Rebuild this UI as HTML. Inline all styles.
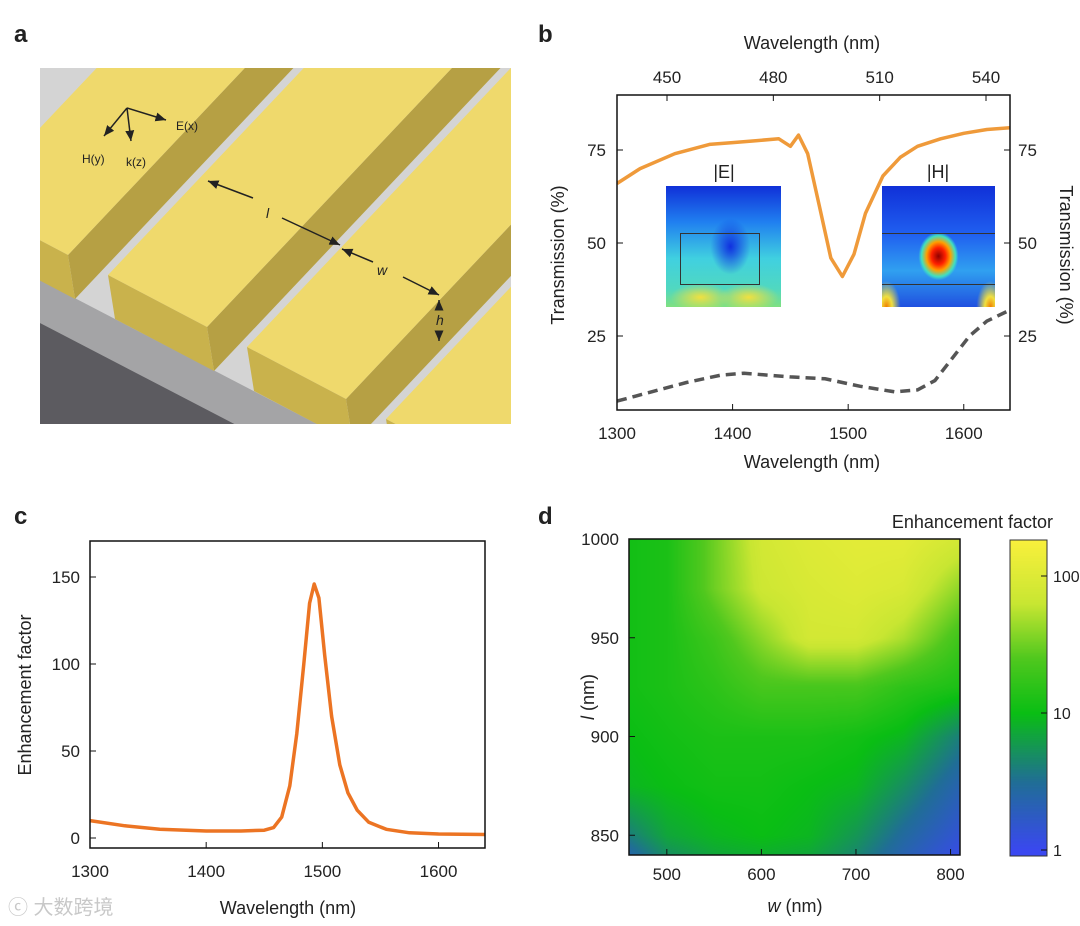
<!DOCTYPE html>
<html><head><meta charset="utf-8">
<style>
body{margin:0;background:#fff;width:1080px;height:926px;position:relative;overflow:hidden;font-family:"Liberation Sans","Noto Sans CJK SC",sans-serif;}
svg{position:absolute;left:0;top:0}
text{font-family:"Liberation Sans","Noto Sans CJK SC",sans-serif;fill:#222}
.inset{position:absolute}
</style></head><body>
<svg id="main" width="1080" height="926">
  <defs><clipPath id="clipA"><rect x="40" y="68" width="471" height="356"/></clipPath>
  <clipPath id="clipB"><rect x="617" y="95" width="393" height="315"/></clipPath></defs>
  <text x="14" y="42" font-size="24" font-weight="bold">a</text>
  <text x="538" y="42" font-size="24" font-weight="bold">b</text>
  <text x="14" y="524" font-size="24" font-weight="bold">c</text>
  <text x="538" y="524" font-size="24" font-weight="bold">d</text>
  <g id="panelA" clip-path="url(#clipA)">
    <rect x="40" y="68" width="471" height="356" fill="#d4d4d4"/>
    <polygon points="40,280 700,623 700,700 40,323" fill="#a4a4a6"/>
    <polygon points="40,323 700,666 40,666" fill="#5c5b60"/>
  </g>
  <g id="panelB"></g>
  <g id="panelC"></g>
  <g id="panelD"></g>
  <text x="8" y="914" font-size="20" fill="#bbb" style="fill:#c8c8c8">ⓒ 大数跨境</text>
</svg>

<div class="inset" style="left:666px;top:186px;width:115px;height:121px;background:
radial-gradient(ellipse 20px 28px at 56% 50%, #1030e0, rgba(16,48,224,0) 100%),
radial-gradient(ellipse 30px 14px at 30% 92%, #f0e040, rgba(240,224,64,0) 100%),
radial-gradient(ellipse 30px 14px at 72% 92%, #f0e040, rgba(240,224,64,0) 100%),
linear-gradient(#1030d8 0%, #2080f0 30%, #40d0e0 60%, #50d8c0 85%, #80e080 100%);"></div>
<div class="inset" style="left:680px;top:233px;width:78px;height:50px;border:1px solid #333;"></div>
<div class="inset" style="left:882px;top:186px;width:113px;height:121px;background:
radial-gradient(ellipse 20px 24px at 50% 58%, #900000, #ff2000 35%, #ffa000 60%, #40e0c0 85%, rgba(40,160,240,0) 100%),
radial-gradient(ellipse 14px 26px at 4% 100%, #f08000, #f0e040 40%, rgba(64,200,220,0) 100%),
radial-gradient(ellipse 14px 26px at 96% 100%, #f08000, #f0e040 40%, rgba(64,200,220,0) 100%),
linear-gradient(#1030d8 0%, #2060f0 40%, #30a0f0 70%, #2050e0 100%);"></div>
<div class="inset" style="left:882px;top:233px;width:113px;height:50px;border-top:1px solid #333;border-bottom:1px solid #333;"></div>
<canvas id="heat" width="331" height="316" style="position:absolute;left:629px;top:539px"></canvas>
<canvas id="cbar" width="37" height="316" style="position:absolute;left:1010px;top:540px"></canvas>
<svg id="over" width="1080" height="926"></svg>

<script>
const NS="http://www.w3.org/2000/svg";
function mk(parent,tag,attrs,txt){const e=document.createElementNS(NS,tag);for(const k in attrs)e.setAttribute(k,attrs[k]);if(txt!==undefined)e.textContent=txt;parent.appendChild(e);return e;}

// ---------- Panel A schematic ----------
const gA=document.getElementById('panelA');
const stripeStarts=[[-31,203],[108,275],[247,347],[386,419]];
stripeStarts.forEach((p,i)=>{
  const W=[99,52],D=[729,-771],H=[7,44];
  const P=p, PW=[P[0]+W[0],P[1]+W[1]];
  const pt=a=>a.map(v=>v[0]+','+v[1]).join(' ');
  const s=mk(gA,'polygon',{points:pt([PW,[PW[0]+D[0],PW[1]+D[1]],[PW[0]+D[0]+H[0],PW[1]+D[1]+H[1]],[PW[0]+H[0],PW[1]+H[1]]]),fill:'#b6a044'});
  
  
  const t=mk(gA,'polygon',{points:pt([P,PW,[PW[0]+D[0],PW[1]+D[1]],[P[0]+D[0],P[1]+D[1]]]),fill:'#efd96c'});
  
  
  const f=mk(gA,'polygon',{points:pt([P,PW,[PW[0]+H[0],PW[1]+H[1]],[P[0]+H[0],P[1]+H[1]]]),fill:'#c9b24c'});
  
  
});
// axes arrows
const ov=document.getElementById('over');
mk(ov,'defs',{}).innerHTML='<marker id="ah" markerWidth="8" markerHeight="8" refX="7" refY="4" orient="auto"><path d="M0,1 L7,4 L0,7 z" fill="#222"/></marker>';
[[127,108,166,121],[127,108,103,136],[127,108,131,141],[250,176,208,181],[287,196,337,241],[353,255,340,245],[404,280,440,296],[439,300,439,300]].forEach((a,i)=>{});
const arrows=[[127,108,166,120,'e-arrow'],[127,108,104,136,'h-arrow'],[127,108,131,141,'k-arrow'],[253,198,208,181,'l-arrow-left'],[282,218,340,245,'l-arrow-right'],[373,262,342,249,'w-arrow-left'],[403,277,439,295,'w-arrow-right'],[439,306,439,300,'h-arrow-up'],[439,332,439,341,'h-arrow-down']];
arrows.forEach(a=>{const l=mk(ov,'line',{x1:a[0],y1:a[1],x2:a[2],y2:a[3],stroke:'#222','stroke-width':1.5,'marker-end':'url(#ah)'});
 
 });
[['E(x)',176,130,'e-label'],['H(y)',82,163,'h-label'],['k(z)',126,166,'k-label'],['l',266,218,'l-label'],['w',377,275,'w-label'],['h',436,325,'h-dim-label']].forEach(t=>{
 const e=mk(ov,'text',{x:t[1],y:t[2],'font-size':t[0].length>1?12:14,'font-style':t[0].length>1?'normal':'italic'},t[0]);
 
 });

// ---------- Panel B data ----------
const bWl=[1300,1320,1350,1380,1400,1420,1440,1450,1457,1465,1475,1485,1495,1505,1515,1530,1545,1560,1580,1600,1620,1640];
const bOrange=[66,70,74,76.5,77,77.5,78,76,79,74,60,46,41,47,58,68,73,76,78,79.5,80.5,81];
const bDashWl=[1300,1330,1360,1390,1410,1430,1450,1480,1510,1540,1560,1575,1590,1605,1620,1640];
const bDash=[7.5,10,12.5,14.5,15,14.5,14,13.5,11.5,10,10.5,13,19,25,29,32];
const bBotTicks=[1300,1400,1500,1600];
const bTopTicks=[450,480,510,540];
const bYTicks=[25,50,75];
const bx=w=>617+(w-1300)*(393/340), by=v=>429-v*3.72, btop=n=>667+(n-450)*(319/90);
const gB=document.getElementById('panelB');
function pathD(xs,ys,fx,fy){let d='';xs.forEach((x,i)=>{d+=(i?' L':'M')+fx(x).toFixed(1)+','+fy(ys[i]).toFixed(1);});return d;}
const cB=mk(gB,'g',{'clip-path':'url(#clipB)'});
let p=mk(cB,'path',{d:pathD(bWl,bOrange,bx,by),fill:'none',stroke:'#ef9a3a','stroke-width':3.5,'stroke-linejoin':'round'});


p=mk(cB,'path',{d:pathD(bDashWl,bDash,bx,by),fill:'none',stroke:'#555','stroke-width':3.5,'stroke-dasharray':'10,6'});


p=mk(gB,'rect',{x:617,y:95,width:393,height:315,fill:'none',stroke:'#111','stroke-width':1.5});


bBotTicks.forEach(t=>{mk(gB,'line',{x1:bx(t),x2:bx(t),y1:410,y2:404,stroke:'#111'});
 const e=mk(gB,'text',{x:bx(t),y:439,'font-size':17,'text-anchor':'middle'},t);
 
 });
bTopTicks.forEach(t=>{mk(gB,'line',{x1:btop(t),x2:btop(t),y1:95,y2:101,stroke:'#111'});
 const e=mk(gB,'text',{x:btop(t),y:83,'font-size':17,'text-anchor':'middle'},t);
 
 });
bYTicks.forEach(t=>{mk(gB,'line',{x1:617,x2:623,y1:by(t),y2:by(t),stroke:'#111'});mk(gB,'line',{x1:1004,x2:1010,y1:by(t),y2:by(t),stroke:'#111'});
 let e=mk(gB,'text',{x:606,y:by(t)+6,'font-size':17,'text-anchor':'end'},t);
 
 
 e=mk(gB,'text',{x:1018,y:by(t)+6,'font-size':17},t);
 
 });
[['Wavelength (nm)',812,468,0,'b-x-title'],['Wavelength (nm)',812,49,0,'b-top-title']].forEach(t=>{const e=mk(gB,'text',{x:t[1],y:t[2],'font-size':18,'text-anchor':'middle'},t[0]);
 
 });
let e=mk(gB,'text',{x:0,y:0,'font-size':18,'text-anchor':'middle',transform:'translate(564,255) rotate(-90)'},'Transmission (%)');


e=mk(gB,'text',{x:0,y:0,'font-size':18,'text-anchor':'middle',transform:'translate(1060,255) rotate(90)'},'Transmission (%)');


e=mk(ov,'text',{x:724,y:178,'font-size':18,'text-anchor':'middle'},'|E|');


e=mk(ov,'text',{x:938,y:178,'font-size':18,'text-anchor':'middle'},'|H|');



// ---------- Panel C ----------
const cWl=[1300,1330,1360,1400,1430,1450,1458,1465,1472,1478,1484,1489,1493,1497,1502,1508,1515,1522,1530,1540,1555,1575,1600,1640];
const cVal=[10,7,5,4,4,4.5,6,12,30,60,100,135,146,138,105,70,42,26,16,9,5,3,2.3,2];
const cXTicks=[1300,1400,1500,1600];
const cYTicks=[0,50,100,150];
const cx=w=>90+(w-1300)*(395/340), cy=v=>838-v*1.74;
const gC=document.getElementById('panelC');
p=mk(gC,'path',{d:pathD(cWl,cVal,cx,cy),fill:'none',stroke:'#ec7423','stroke-width':3.5,'stroke-linejoin':'round'});


p=mk(gC,'rect',{x:90,y:541,width:395,height:307,fill:'none',stroke:'#111','stroke-width':1.5});


cXTicks.forEach(t=>{mk(gC,'line',{x1:cx(t),x2:cx(t),y1:848,y2:842,stroke:'#111'});
 const e=mk(gC,'text',{x:cx(t),y:877,'font-size':17,'text-anchor':'middle'},t);
 
 });
cYTicks.forEach(t=>{mk(gC,'line',{x1:90,x2:96,y1:cy(t),y2:cy(t),stroke:'#111'});
 const e=mk(gC,'text',{x:80,y:cy(t)+6,'font-size':17,'text-anchor':'end'},t);
 
 });
e=mk(gC,'text',{x:288,y:914,'font-size':18,'text-anchor':'middle'},'Wavelength (nm)');


e=mk(gC,'text',{x:0,y:0,'font-size':18,'text-anchor':'middle',transform:'translate(31,695) rotate(-90)'},'Enhancement factor');



// ---------- Panel D ----------
const dW=[460,500,550,600,650,700,750,810];
const dL=[1000,975,950,925,900,875,850,840];
const dLog=[
[1.05,1.1,1.5,1.9,2.0,2.05,2.05,1.9],
[1.05,1.1,1.5,1.85,1.95,2.0,1.95,1.6],
[1.05,1.1,1.3,1.6,1.9,1.9,1.7,1.3],
[1.05,1.1,1.2,1.35,1.35,1.35,1.2,1.1],
[1.0,1.05,1.1,1.1,1.1,1.05,0.95,0.6],
[0.95,1.0,1.05,1.05,1.0,0.95,0.7,0.35],
[0.6,0.85,0.95,1.0,0.95,0.75,0.45,0.15],
[0.4,0.7,0.85,0.9,0.85,0.65,0.35,0.05]];
const dXTicks=[500,600,700,800];
const dYTicks=[850,900,950,1000];
const cbTicks=[1,10,100];
const dx=w=>629+(w-460)*(331/350), dy=l=>539+(1000-l)*(316/160), cbY=v=>850-Math.log10(v)*137;
const cmapStops=[[0,[58,72,240]],[0.5,[32,110,150]],[1.0,[10,190,20]],[1.4,[80,200,30]],[1.8,[200,230,50]],[2.27,[250,240,60]]];
function cmap(v){if(v<=0)return cmapStops[0][1];for(let i=1;i<cmapStops.length;i++){if(v<=cmapStops[i][0]){const a=cmapStops[i-1],b=cmapStops[i],t=(v-a[0])/(b[0]-a[0]);return a[1].map((c,k)=>Math.round(c+(b[1][k]-c)*t));}}return cmapStops[cmapStops.length-1][1];}
function seg(arr,v){for(let i=0;i<arr.length-1;i++){const a=arr[i],b=arr[i+1];if((v-a)*(v-b)<=0)return [i,(v-a)/(b-a)];}return [arr.length-2,1];}
const hc=document.getElementById('heat').getContext('2d');
const img=hc.createImageData(331,316);
for(let py=0;py<316;py++){const l=1000-py*160/316;const [ri,rt]=seg(dL,l);
 for(let px=0;px<331;px++){const w=460+px*350/331;const [ci,ct]=seg(dW,w);
  const v=(dLog[ri][ci]*(1-ct)+dLog[ri][ci+1]*ct)*(1-rt)+(dLog[ri+1][ci]*(1-ct)+dLog[ri+1][ci+1]*ct)*rt;
  const c=cmap(v);const o=(py*331+px)*4;img.data[o]=c[0];img.data[o+1]=c[1];img.data[o+2]=c[2];img.data[o+3]=255;}}
hc.putImageData(img,0,0);
const cc=document.getElementById('cbar').getContext('2d');
for(let py=0;py<316;py++){const v=(850-(540+py))/137;const c=cmap(v);cc.fillStyle='rgb('+c.join(',')+')';cc.fillRect(0,py,37,1);}
const gD=document.getElementById('over');
p=mk(gD,'rect',{x:629,y:539,width:331,height:316,fill:'none',stroke:'#111','stroke-width':1.5});


p=mk(gD,'rect',{x:1010,y:540,width:37,height:316,fill:'none',stroke:'#333','stroke-width':1});


dXTicks.forEach(t=>{mk(gD,'line',{x1:dx(t),x2:dx(t),y1:855,y2:849,stroke:'#111'});
 const e=mk(gD,'text',{x:dx(t),y:880,'font-size':17,'text-anchor':'middle'},t);
 
 });
dYTicks.forEach(t=>{mk(gD,'line',{x1:629,x2:635,y1:dy(t),y2:dy(t),stroke:'#111'});
 const e=mk(gD,'text',{x:619,y:dy(t)+6,'font-size':17,'text-anchor':'end'},t);
 
 });
cbTicks.forEach(t=>{mk(gD,'line',{x1:1041,x2:1047,y1:cbY(t),y2:cbY(t),stroke:'#111'});
 const e=mk(gD,'text',{x:1053,y:cbY(t)+6,'font-size':16},t);
 
 });
e=mk(gD,'text',{x:1053,y:528,'font-size':18,'text-anchor':'end'},'Enhancement factor');


e=mk(gD,'text',{x:795,y:912,'font-size':18,'text-anchor':'middle'},'');
e.innerHTML='<tspan font-style="italic">w</tspan> (nm)';


e=mk(gD,'text',{x:0,y:0,'font-size':18,'text-anchor':'middle',transform:'translate(594,697) rotate(-90)'},'');
e.innerHTML='<tspan font-style="italic">l</tspan> (nm)';


</script>
</body></html>
